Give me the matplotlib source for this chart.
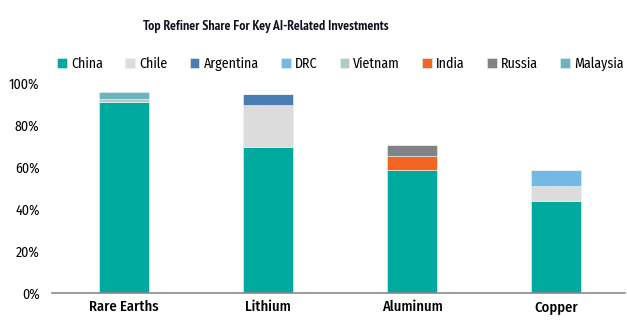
import matplotlib
matplotlib.use("Agg")
import matplotlib.pyplot as plt
import numpy as np

plt.rcParams['font.family'] = ['Fira Sans Condensed', 'DejaVu Sans']

minerals = ["Rare Earths", "Lithium", "Aluminum", "Copper"]
countries = ["China", "Chile", "Argentina", "DRC", "Vietnam", "India", "Russia", "Malaysia"]
colors = ["#00a99d", "#dcdcdc", "#4a7eb2", "#73b9e5", "#b2cbc6", "#f26522", "#808285", "#6db3bd"]

# share in % per country, order follows minerals
china     = [91.0, 69.5, 58.7, 44.0]
chile     = [0.0, 20.0, 0.0, 7.2]
argentina = [0.0, 5.5, 0.0, 0.0]
drc       = [0.0, 0.0, 0.0, 7.5]
vietnam   = [1.6, 0.0, 0.0, 0.0]
india     = [0.0, 0.0, 6.5, 0.0]
russia    = [0.0, 0.0, 5.5, 0.0]
malaysia  = [3.5, 0.0, 0.0, 0.0]
series = [china, chile, argentina, drc, vietnam, india, russia, malaysia]

fig = plt.figure(figsize=(6.27, 3.27), dpi=100)
ax = fig.add_axes([0.083, 0.105, 0.914, 0.64])

x = np.arange(len(minerals))
bottom = np.zeros(len(minerals))
for name, vals, c in zip(countries, series, colors):
    ax.bar(x, vals, 0.35, bottom=bottom, color=c, label=name,
           edgecolor="#e8f4f3", linewidth=0.4)
    bottom += np.array(vals)

ax.set_xlim(-0.5, 3.48)
ax.set_ylim(0, 100)
ax.set_yticks([0, 20, 40, 60, 80, 100])
ax.set_yticklabels([f"{v}%" for v in range(0, 101, 20)], fontsize=10)
ax.set_xticks(x)
ax.set_xticklabels(minerals, fontsize=10.5, fontweight="medium")
ax.tick_params(length=0, pad=5)
ax.tick_params(axis="y", pad=9)
for s in ["top", "right", "left"]:
    ax.spines[s].set_visible(False)
ax.spines["bottom"].set_color("#8a8a8a")
ax.spines["bottom"].set_linewidth(1.2)

fig.text(0.424, 0.92, "Top Refiner Share For Key AI-Related Investments",
         ha="center", va="center", fontsize=10, fontweight="bold",
         family=["PT Sans Narrow", "DejaVu Sans"], color="#111122")
fig.legend(loc="center", bbox_to_anchor=(0.543, 0.805), ncol=8, frameon=False,
           fontsize=10, handlelength=0.7, handleheight=0.7, handletextpad=0.3,
           columnspacing=1.6)

fig.savefig("out.png", dpi=100)
